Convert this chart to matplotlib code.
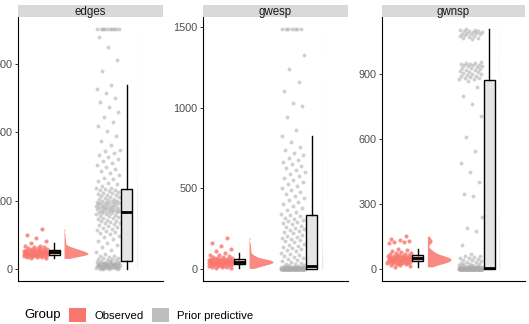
import numpy as np
import matplotlib
matplotlib.use("Agg")
import matplotlib.pyplot as plt
from matplotlib.patches import Patch

plt.rcParams['font.family'] = ['Liberation Sans', 'DejaVu Sans']

# facets and groups
panels = ['edges', 'gwesp', 'gwnsp']
groups = ['Observed', 'Prior predictive']
group_colors = ['#F8766D', '#BEBEBE']
panel_ticks = [[0, 200, 400, 600], [0, 500, 1000, 1500], [0, 300, 600, 900]]

# observed statistics
edges_obs = [31, 33, 34, 35, 36, 37, 38, 38, 39, 39, 40, 40, 41, 41, 42, 42, 43, 43,
             44, 44, 44, 45, 45, 45, 46, 46, 47, 47, 48, 48, 49, 49, 50, 50, 51, 51,
             52, 52, 53, 53, 54, 55, 55, 56, 56, 57, 58, 59, 60, 61, 62, 63, 64, 66,
             68, 75, 82, 90, 101, 117]
gwesp_obs = [4, 7, 10, 13, 15, 17, 19, 21, 23, 25, 26, 28, 29, 30, 31, 32, 33, 34, 35,
             36, 37, 38, 39, 40, 41, 42, 43, 44, 45, 46, 47, 48, 49, 50, 51, 52, 53, 54,
             55, 56, 57, 58, 59, 60, 61, 63, 65, 67, 70, 73, 76, 80, 84, 87, 98, 110,
             125, 140, 160, 195]
gwnsp_obs = [10, 14, 17, 20, 22, 24, 26, 27, 28, 29, 30, 31, 32, 33, 34, 35, 36, 37, 38,
             39, 40, 41, 42, 43, 44, 45, 45, 46, 47, 48, 49, 50, 51, 52, 53, 54, 55, 56,
             57, 58, 59, 60, 62, 64, 66, 68, 70, 73, 76, 80, 84, 88, 93, 118, 124, 126,
             130, 135, 140, 152]

# prior predictive draws
edges_prior = [0, 0, 1, 1, 2, 2, 3, 3, 4, 4, 5, 5, 6, 6, 7, 7, 8, 8, 9, 9, 10, 10, 11, 11,
               12, 12, 13, 13, 14, 14, 15, 15, 16, 16, 17, 17, 18, 18, 19, 19, 20, 20,
               2, 5, 8, 11, 14, 17,
               21, 22, 24, 25, 27, 28, 30, 32, 33, 35, 37, 39,
               44, 50, 57, 63, 70, 76, 82, 88, 93, 98,
               102, 105, 108, 111, 114, 117, 120, 123, 126, 129, 132, 134, 136, 138,
               140, 142, 144, 146, 148, 150, 152, 154, 156, 158, 160, 161, 163, 164,
               166, 167, 168, 169, 170, 171, 172, 173, 174, 175, 176, 177, 178, 179,
               180, 181, 182, 183, 184, 185, 186, 187, 188, 189, 190, 191, 192, 193,
               194, 195, 196, 197, 198, 199, 200, 202, 204, 206, 208, 210, 212, 214,
               216, 218, 220, 222, 224, 226, 228, 230, 232, 234, 236, 238,
               243, 248, 253, 258, 263, 268, 274, 280, 286, 292, 298, 304, 310, 316,
               322, 328, 334, 340, 345, 350,
               362, 376, 390, 404, 418, 432, 446, 460, 474, 488, 502, 516, 528, 540,
               580, 612, 650, 681,
               703, 703, 703, 703, 703, 703, 703, 703, 703, 703]
gwesp_prior = [0, 0, 0, 0, 0, 0, 0, 0, 0, 0, 0, 0, 0, 0, 0, 0, 0, 0, 0, 0,
               0, 0, 0, 0, 0, 0, 0, 0, 0, 0, 0, 0, 0, 0, 0, 0, 0, 0, 0, 0,
               0, 0, 0, 0, 0, 0, 0, 0, 0, 0, 0, 0, 0, 0, 0, 0, 0, 0, 0, 0,
               0, 0, 0, 0, 0, 0, 0, 0, 0, 0,
               1, 1, 2, 2, 3, 3, 4, 4, 5, 5, 6, 6, 7, 7, 8, 8, 9, 9, 10, 10,
               11, 11, 12, 12, 13, 13, 14, 14, 15, 15,
               17, 20, 23, 26, 30, 34, 38, 43, 48, 54,
               60, 67, 74, 81, 88, 95, 102, 109, 116, 123, 130, 137, 144, 151, 158,
               165, 172, 179, 186, 193, 200, 207, 214, 221, 228, 235, 242, 249, 256,
               263, 270, 277, 284, 291, 298, 305, 312, 319, 326, 333,
               340, 352, 365, 378, 390, 403, 415, 428, 440, 452, 465, 478, 490, 503,
               515, 528, 540, 553, 565, 578, 590, 603, 615, 628, 640, 653, 665, 678,
               690, 705, 720, 740, 760, 790, 826,
               865, 945, 1010, 1030, 1105, 1160, 1240, 1330,
               1490, 1490, 1490, 1490, 1490, 1490, 1490]
gwnsp_prior = [0, 0, 0, 0, 0, 0, 0, 0, 0, 0, 0, 0, 0, 0, 0, 0, 0, 0, 0, 0,
               0, 0, 0, 0, 0, 0, 0, 0, 0, 0, 0, 0, 0, 0, 0, 0, 0, 0, 0, 0,
               0, 0, 0, 0, 0, 0, 0, 0, 0, 0, 0, 0, 0, 0, 0, 0, 0, 0, 0, 0,
               0, 0, 0, 0, 0, 0, 0, 0, 0, 0, 0, 0, 0, 0, 0, 0, 0, 0, 0, 0,
               0, 0, 0, 0, 0,
               1, 1, 1, 2, 2, 2, 3, 3, 3, 4, 4, 4, 5, 5, 5, 6, 6, 6,
               7, 7, 8, 8, 9, 9, 10, 10, 11, 12, 13, 14, 15, 17, 19, 21, 23, 25,
               28, 31, 34, 37, 40, 43, 46, 49, 52, 55, 58, 61,
               70, 110, 175, 190, 240, 335, 345, 400, 450, 490, 545, 610,
               705, 760, 800, 840, 870,
               875, 878, 881, 884, 887, 890, 893, 896, 899, 902, 905, 908, 911, 914,
               917, 920, 923, 926, 929, 932, 935, 938, 940, 942, 944, 946, 948, 950,
               952, 955,
               1062, 1065, 1068, 1071, 1074, 1077, 1080, 1083, 1085, 1087, 1089, 1091,
               1093, 1095, 1097, 1099, 1101, 1103, 1105, 1108]

panel_data = {
    'edges': [edges_obs, edges_prior],
    'gwesp': [gwesp_obs, gwesp_prior],
    'gwnsp': [gwnsp_obs, gwnsp_prior],
}


def jitter(n, half_width):
    # deterministic spread (golden ratio sequence) instead of random jitter
    k = np.arange(n)
    return ((k * 0.6180339887 + 0.31) % 1.0 - 0.5) * 2 * half_width


def kde(values, grid):
    v = np.asarray(values, float)
    iqr = np.subtract(*np.percentile(v, [75, 25]))
    bw = 0.9 * min(v.std(ddof=1), iqr / 1.34) * len(v) ** -0.2
    if bw <= 0:
        bw = 0.9 * v.std(ddof=1) * len(v) ** -0.2
    z = (grid[:, None] - v[None, :]) / bw
    return np.exp(-0.5 * z ** 2).sum(axis=1) / (len(v) * bw * np.sqrt(2 * np.pi))


W, H = 529, 324
fig = plt.figure(figsize=(W / 100, H / 100), dpi=100)

ax_left = [18, 203, 382]
ax_width = [145, 145, 143]
ax_bottom, ax_height = 43, 264
strip_h = 12

for i, name in enumerate(panels):
    ax = fig.add_axes([ax_left[i] / W, ax_bottom / H, ax_width[i] / W, ax_height / H])
    data = panel_data[name]

    all_vals = np.concatenate([np.asarray(d, float) for d in data])
    lo, hi = all_vals.min(), all_vals.max()
    pad = 0.05 * (hi - lo)
    ax.set_ylim(lo - pad, hi + pad)
    ax.set_xlim(0, 2)

    # density grids, observed half-eye ~0.33 wide, prior one kept thin
    dens = []
    for vals in data:
        grid = np.linspace(min(vals), max(vals), 512)
        dens.append((grid, kde(vals, grid)))
    scale = 0.33 / dens[0][1].max()
    widths = [scale, scale * 0.3]

    for g, vals in enumerate(data):
        col = group_colors[g]
        vals = np.asarray(vals, float)
        # jittered points
        if g == 0:
            ax.scatter(g + 0.24 + jitter(len(vals), 0.17), vals, s=9, color=col,
                       alpha=0.8, linewidths=0, zorder=2)
        else:
            ax.scatter(g + 0.24 + jitter(len(vals), 0.165), vals, s=8, color='#ABABAB',
                       alpha=0.55, linewidths=0, zorder=2)
        # box
        bp = ax.boxplot([vals], positions=[g + 0.5], widths=0.155, whis=1.5,
                        showfliers=False, showcaps=False, patch_artist=True,
                        manage_ticks=False)
        for b in bp['boxes']:
            b.set_facecolor(matplotlib.colors.to_rgba(col, 0.4))
            b.set_edgecolor('black')
            b.set_linewidth(1.0)
            b.set_zorder(3)
        for w in bp['whiskers']:
            w.set_color('black')
            w.set_linewidth(1.0)
            w.set_zorder(3)
        for m in bp['medians']:
            m.set_color('black')
            m.set_linewidth(2.0)
            m.set_zorder(4)
        # half violin
        grid, d = dens[g]
        base = g + 0.635
        ax.fill_betweenx(grid, base, base + d * widths[g], color=col,
                         alpha=0.85 if g == 0 else 0.4, linewidth=0, zorder=1)

    ax.set_yticks(panel_ticks[i])
    ax.set_xticks([])
    for side in ['top', 'right']:
        ax.spines[side].set_visible(False)
    for side in ['left', 'bottom']:
        ax.spines[side].set_linewidth(0.8)
        ax.spines[side].set_color('black')
    ax.tick_params(axis='y', length=2.5, width=0.7, pad=1.5, labelsize=7.8,
                   labelcolor='#4D4D4D', color='#333333')

    # facet strip
    sax = fig.add_axes([ax_left[i] / W, (ax_bottom + ax_height) / H,
                        ax_width[i] / W, strip_h / H])
    sax.set_facecolor('#D9D9D9')
    sax.set_xticks([])
    sax.set_yticks([])
    for s in sax.spines.values():
        s.set_visible(False)
    sax.text(0.5, 0.45, name, ha='center', va='center', fontsize=8.3,
             color='#1A1A1A', transform=sax.transAxes)

# legend at the bottom
fig.text(24 / W, 9 / H, 'Group', ha='left', va='center', fontsize=9.5, color='black')
handles = [Patch(facecolor=c, edgecolor='none') for c in group_colors]
fig.legend(handles, groups, loc='center left', bbox_to_anchor=(69 / W, 9 / H),
           ncol=2, frameon=False, fontsize=8.2, handlelength=1.5, handleheight=1.5,
           handletextpad=0.7, columnspacing=0.75, borderaxespad=0, borderpad=0)

fig.savefig('out.png', dpi=100)
